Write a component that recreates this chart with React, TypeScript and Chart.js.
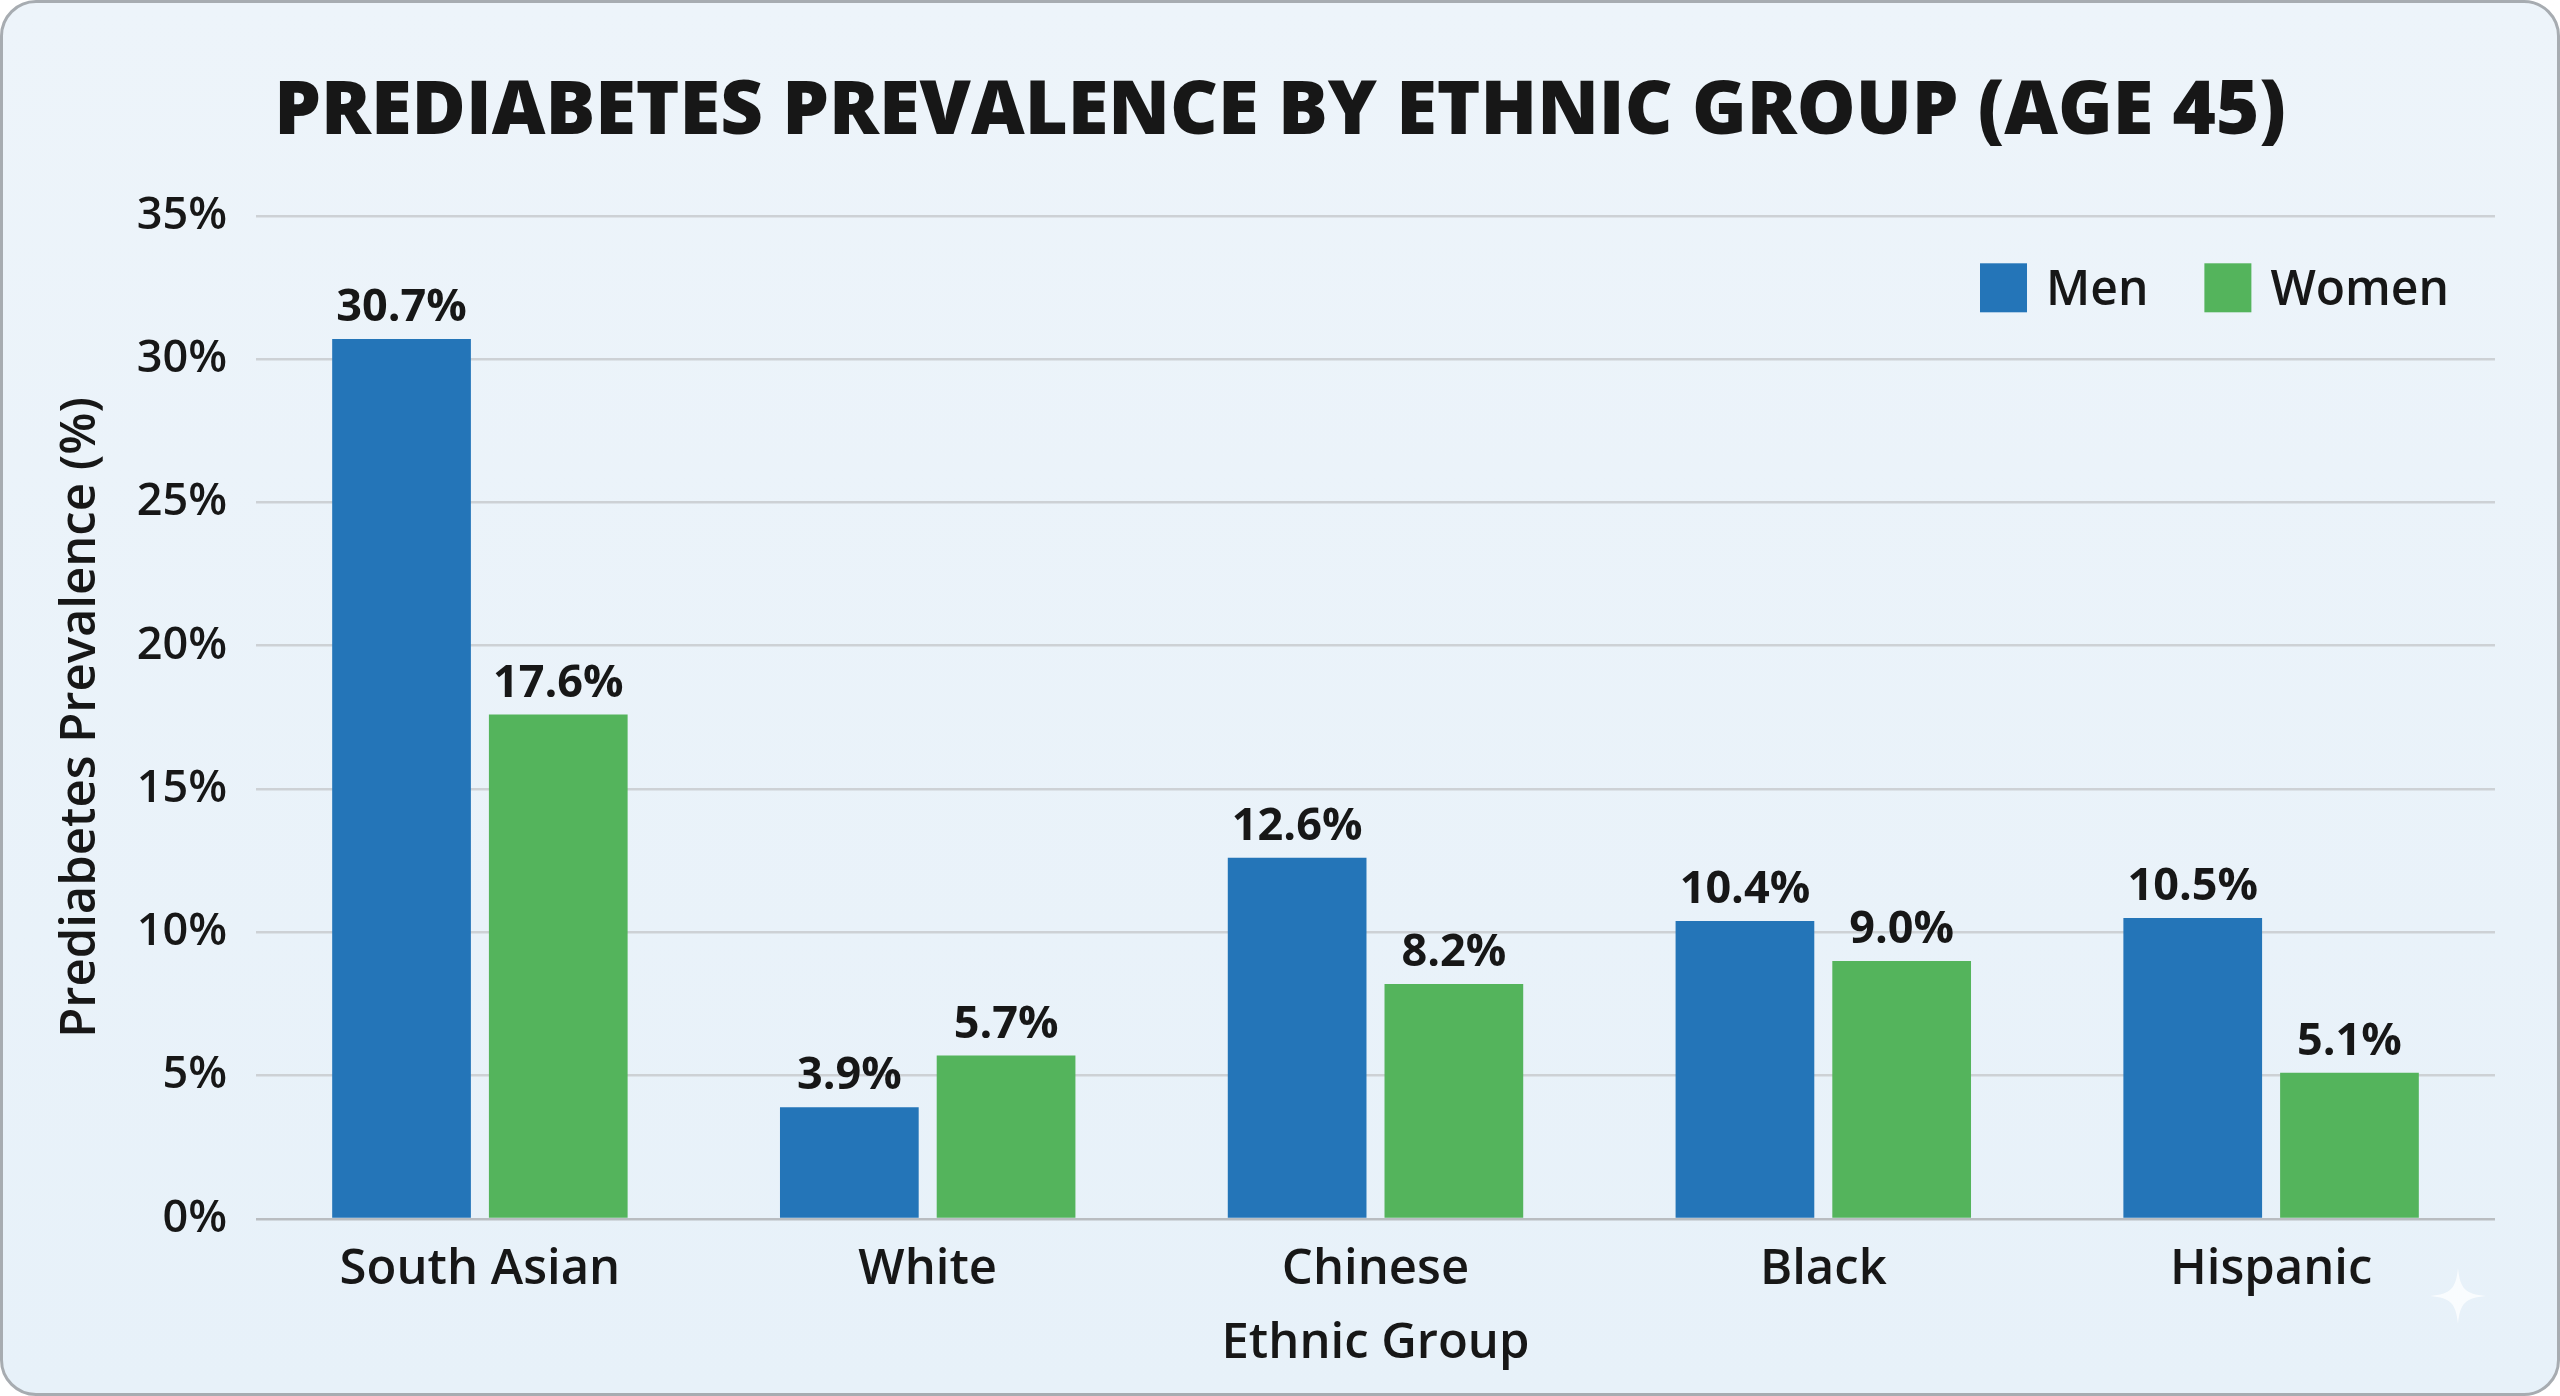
import React, { useEffect, useRef } from 'react';
import { Chart, registerables } from 'chart.js';

Chart.register(...registerables);

// ---- data ----
const categories = ['South Asian', 'White', 'Chinese', 'Black', 'Hispanic'];
const menValues = [30.7, 3.9, 12.6, 10.4, 10.5];
const womenValues = [17.6, 5.7, 8.2, 9.0, 5.1];
const seriesLabels = ['Men', 'Women'];
const seriesColors = ['#2475b8', '#54b45c'];
const yMin = 0;
const yMax = 35;
const yStep = 5;
const titleText = 'PREDIABETES PREVALENCE BY ETHNIC GROUP (AGE 45)';
const yTitle = 'Prediabetes Prevalence (%)';
const xTitle = 'Ethnic Group';

const FONT = '"Open Sans", "DejaVu Sans", sans-serif';
const INK = '#171717';

const valueLabels = {
  id: 'valueLabels',
  afterDatasetsDraw(chart: any) {
    const ctx = chart.ctx;
    ctx.save();
    ctx.font = `700 45px ${FONT}`;
    ctx.fillStyle = INK;
    ctx.textAlign = 'center';
    ctx.textBaseline = 'alphabetic';
    chart.data.datasets.forEach((ds: any, i: number) => {
      const meta = chart.getDatasetMeta(i);
      meta.data.forEach((bar: any, j: number) => {
        const v = ds.data[j];
        ctx.fillText(Number(v).toFixed(1) + '%', bar.x, bar.y - 18);
      });
    });
    ctx.restore();
  },
};

const innerLegend = {
  id: 'innerLegend',
  afterDraw(chart: any) {
    const { ctx, chartArea } = chart;
    ctx.save();
    const size = 48;
    ctx.font = `600 ${size}px ${FONT}`;
    const boxW = 47;
    const boxH = 49;
    const textGap = 19;
    const itemGap = 56;
    const items = chart.data.datasets.map((ds: any) => ({
      label: ds.label,
      color: ds.backgroundColor,
      w: ctx.measureText(ds.label).width,
    }));
    const total = items.reduce((s: number, it: any) => s + boxW + textGap + it.w, 0) + itemGap * (items.length - 1);
    let x = chartArea.right - 46 - total;
    const cy = chartArea.top + 72;
    items.forEach((it: any) => {
      ctx.fillStyle = it.color;
      ctx.fillRect(x, cy - boxH / 2, boxW, boxH);
      ctx.fillStyle = INK;
      ctx.textAlign = 'left';
      ctx.textBaseline = 'alphabetic';
      ctx.fillText(it.label, x + boxW + textGap, cy + size * 0.357);
      x += boxW + textGap + it.w + itemGap;
    });
    ctx.restore();
  },
};

function ChartCanvas() {
  const ref = useRef<HTMLCanvasElement | null>(null);
  useEffect(() => {
    if (!ref.current) return;
    Chart.defaults.font.family = FONT;
    Chart.defaults.color = INK;
    const chart = new Chart(ref.current, {
      type: 'bar',
      data: {
        labels: categories,
        datasets: [
          {
            label: seriesLabels[0],
            data: menValues,
            backgroundColor: seriesColors[0],
            categoryPercentage: 0.7,
            barPercentage: 0.885,
          },
          {
            label: seriesLabels[1],
            data: womenValues,
            backgroundColor: seriesColors[1],
            categoryPercentage: 0.7,
            barPercentage: 0.885,
          },
        ],
      },
      options: {
        animation: false,
        responsive: true,
        maintainAspectRatio: false,
        devicePixelRatio: 1,
        layout: { padding: { left: 0, right: 0, top: 0, bottom: 0 } },
        plugins: {
          legend: { display: false },
          tooltip: { enabled: false },
          title: {
            display: true,
            text: titleText,
            color: INK,
            font: { size: 74, weight: 800, family: FONT },
            padding: { top: 66, bottom: 58 },
          },
        },
        scales: {
          x: {
            grid: { display: false, drawTicks: false },
            border: { display: false },
            ticks: {
              color: INK,
              font: { size: 49, weight: 600 },
              padding: 22,
            },
            title: {
              display: true,
              text: xTitle,
              color: INK,
              font: { size: 49, weight: 600 },
              padding: { top: 0, bottom: 20 },
            },
            afterFit(scale: any) {
              scale.height = 174;
            },
          },
          y: {
            min: yMin,
            max: yMax,
            grid: {
              drawTicks: false,
              color: (c: any) => (c.tick && c.tick.value === 0 ? '#b9bdc1' : '#cdd1d5'),
              lineWidth: 2.5,
            },
            border: { display: false },
            ticks: {
              stepSize: yStep,
              color: INK,
              font: { size: 45, weight: 600 },
              padding: 29,
              callback: (v: any) => v + '%',
            },
            title: {
              display: true,
              text: yTitle,
              color: INK,
              font: { size: 49, weight: 600 },
              padding: { top: 49, bottom: 0 },
            },
            afterFit(scale: any) {
              scale.width = 253;
            },
          },
          yRightSpace: {
            type: 'linear',
            position: 'right',
            display: true,
            grid: { display: false, drawTicks: false },
            border: { display: false },
            ticks: { display: false },
            afterFit(scale: any) {
              scale.width = 62;
            },
          },
        },
      },
      plugins: [valueLabels, innerLegend],
    });
    return () => chart.destroy();
  }, []);
  return <canvas ref={ref} />;
}

export default function App() {
  return (
    <div
      style={{
        position: 'fixed',
        left: 0,
        top: 0,
        width: 2560,
        height: 1396,
        boxSizing: 'border-box',
        border: '3px solid #a7acb1',
        borderRadius: 36,
        background: 'linear-gradient(180deg, #edf4fa 0%, #e7f1f9 100%)',
        overflow: 'hidden',
      }}
    >
      <div style={{ position: 'absolute', inset: 0 }}>
        <ChartCanvas />
      </div>
      <svg
        width={56}
        height={56}
        viewBox="-1 -1 2 2"
        style={{ position: 'absolute', left: 2427, top: 1265, opacity: 0.75 }}
      >
        <path
          d="M0,-1 C0.08,-0.25 0.25,-0.08 1,0 C0.25,0.08 0.08,0.25 0,1 C-0.08,0.25 -0.25,0.08 -1,0 C-0.25,-0.08 -0.08,-0.25 0,-1 Z"
          fill="#ffffff"
        />
      </svg>
    </div>
  );
}
